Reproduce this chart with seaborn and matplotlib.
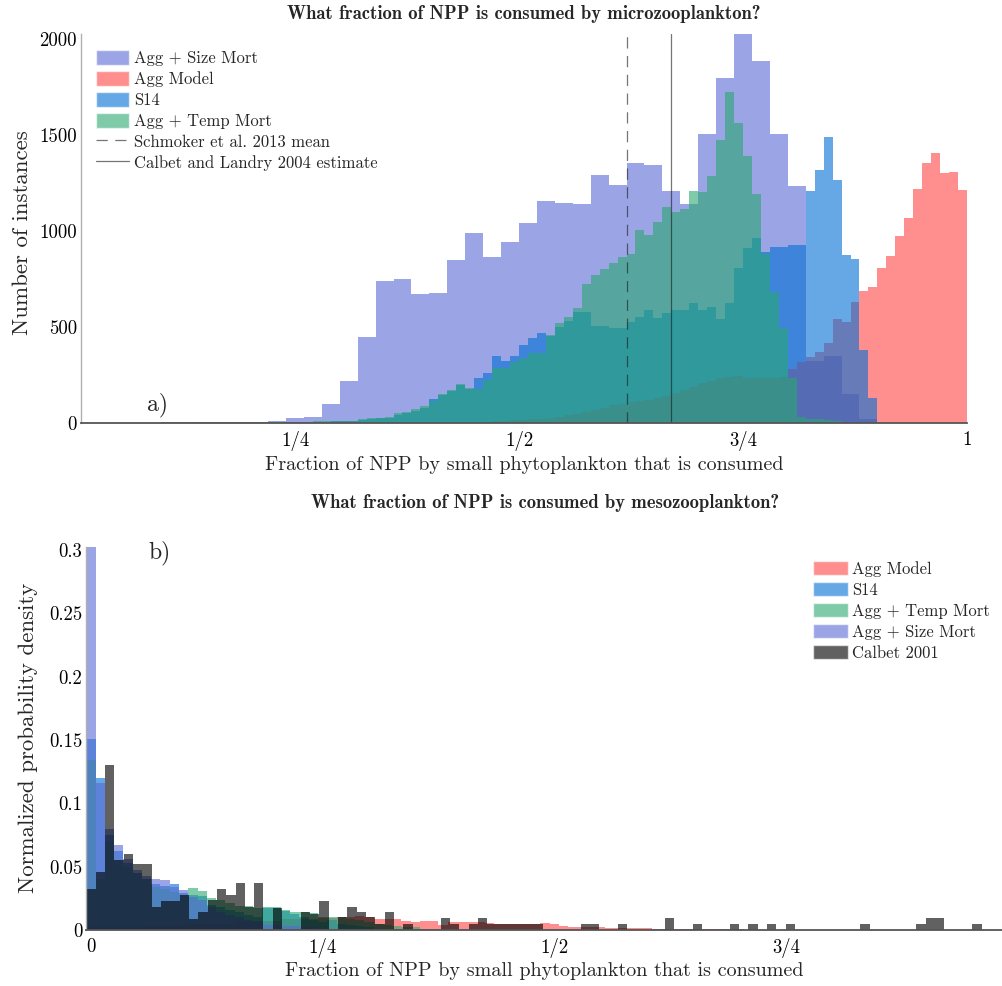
import numpy as np
import pandas as pd
import matplotlib
matplotlib.use("Agg")
import matplotlib.pyplot as plt
import seaborn as sns
from matplotlib.patches import Patch
from matplotlib.lines import Line2D

# ---------------- data: panel a (counts per bin) ----------------
# fine bins: width 0.01, left edges 0.00 ... 0.99
agg_temp_a = [0,0,0,0,0,0,0,0,0,0,
              0,1,1,1,2,2,2,2,3,3,
              3,3,4,4,5,5,6,7,8,9,
              10,10,17,23,26,31,49,57,71,87,
              115,149,170,200,179,174,222,286,286,318,
              339,365,365,457,517,549,599,722,769,800,
              830,865,878,1003,977,1043,1125,1099,1113,1207,
              1203,1285,1472,1724,1562,1392,1191,878,682,495,
              231,31,20,20,15,10,0,0,0,0,
              0,0,0,0,0,0,0,0,0,0]
s14_a = [0,0,0,0,0,0,0,0,0,0,
         0,0,0,0,0,0,0,0,0,0,
         1,1,2,2,3,3,4,5,6,7,
         8,8,14,20,22,26,42,49,61,75,
         125,145,165,195,175,231,260,347,321,347,
         404,439,465,450,500,530,578,578,503,505,
         495,495,526,549,587,544,570,589,589,622,
         587,602,540,622,804,908,960,890,917,917,
         925,925,1207,1319,1489,1264,873,851,378,127,
         0,0,0,0,0,0,0,0,0,0]
agg_model_a = [0,0,0,0,0,0,0,0,0,0,
               0,0,0,0,0,0,0,0,0,0,
               0,0,0,0,0,0,0,0,0,0,
               0,0,0,0,0,0,0,0,0,0,
               0,0,0,0,0,5,6,8,10,12,
               14,17,21,25,30,38,45,55,65,78,
               92,100,108,115,120,127,138,153,170,188,
               205,215,231,238,243,231,231,231,231,240,
               280,318,344,370,413,538,526,630,686,708,
               804,870,974,1068,1219,1354,1403,1302,1305,1210]
# coarse bins: width 0.02, left edges 0.00 ... 0.98
agg_size_a = [0,0,0,0,0,2,3,3,4,5,
              6,10,26,31,97,217,448,740,748,670,
              674,847,986,865,941,1042,1154,1147,1141,1293,
              1238,1352,1345,1207,1139,1503,1797,2030,1882,1502,
              1233,320,350,150,20,0,0,0,0,0]
schmoker_mean = 0.621
calbet_landry = 0.670

# ---------------- data: panel b (normalized density per bin) ----------------
# bins centred on 0.00, 0.01, ..., 0.99
agg_model_b = [.003,.003,.003,.003,.003,.003,.004,.004,.004,.004,
               .004,.005,.005,.005,.005,.005,.007,.007,.007,.007,
               .007,.009,.009,.009,.009,.0097,.0097,.010,.0105,.0113,
               .010,.0087,.0084,.0084,.0074,.0066,.0071,.0071,.0040,.006,
               .006,.006,.006,.0053,.005,.005,.005,.005,.005,.0055,
               .005,.003,.002,.0025,.0025,.002,.0016,.0016,.0016,.0013,
               .0012,.001,.001,.0008,.0008,.0006,.0005,.0005,.0005,.0005,
               .0005,.0003,.0003,.0003,.0003,.0003,0,0,0,0,
               0,0,0,0,0,0,0,0,0,0,
               0,0,0,0,0,0,0,0,0,0]
s14_b = [.151,.1197,.075,.062,.053,.045,.040,.036,.035,.036,
         .029,.0276,.027,.020,.018,.016,.014,.012,.010,.017,
         .017,.015,.013,.010,.008,.006,.008,.005,.004,.003,
         .002,.001,.001,.001,.001,.001,0,0,0,0,
         0,0,0,0,0,0,0,0,0,0,
         0,0,0,0,0,0,0,0,0,0,
         0,0,0,0,0,0,0,0,0,0,
         0,0,0,0,0,0,0,0,0,0,
         0,0,0,0,0,0,0,0,0,0,
         0,0,0,0,0,0,0,0,0,0]
agg_temp_b = [.134,.040,.070,.055,.050,.045,.040,.034,.032,.030,
              .028,.033,.031,.0255,.0237,.0216,.019,.019,.0176,.0179,
              .018,.0158,.0142,.0142,.0132,.0100,.010,.010,.009,.008,
              .006,.005,.004,.003,.002,.002,.001,.001,0,0,
              0,0,0,0,0,0,0,0,0,0,
              0,0,0,0,0,0,0,0,0,0,
              0,0,0,0,0,0,0,0,0,0,
              0,0,0,0,0,0,0,0,0,0,
              0,0,0,0,0,0,0,0,0,0,
              0,0,0,0,0,0,0,0,0,0]
agg_size_b = [.3026,.116,.080,.067,.056,.047,.043,.040,.0395,.034,
              .0316,.026,.024,.018,.014,.012,.010,.008,.006,.004,
              .004,.003,.003,.002,.002,.001,.001,.001,.001,.001,
              .001,0,0,0,0,0,0,0,0,0,
              0,0,0,0,0,0,0,0,0,0,
              0,0,0,0,0,0,0,0,0,0,
              0,0,0,0,0,0,0,0,0,0,
              0,0,0,0,0,0,0,0,0,0,
              0,0,0,0,0,0,0,0,0,0,
              0,0,0,0,0,0,0,0,0,0]
# Calbet 2001 uses its own bins (width ~0.010065 starting at -0.00507)
calbet_b = [.032,.046,.130,.055,.060,.052,.052,.018,.023,.023,
            .028,.009,.0145,.024,.0324,.028,.0368,.0184,.0368,0,
            .0176,0,0,.014,.013,.023,0,.010,.018,.014,
            .010,.0046,.014,0,.0046,0,0,0,.0092,.0046,
            0,.0046,.0092,.0046,.0046,.0046,.0046,.0046,.0046,0,
            0,0,0,.0046,.0046,0,0,.0046,0,0,
            0,0,.0092,0,0,.0046,0,0,0,.0046,
            0,.0046,0,.0046,0,.0046,0,0,0,0,
            0,0,0,.0046,0,0,0,0,0,.0046,
            .0092,.0092,0,0,0,.0046]

# ---------------- style ----------------
sns.set_theme(style="white")
plt.rcParams["font.family"] = ["cmr10", "DejaVu Serif"]
plt.rcParams["mathtext.fontset"] = "cm"
plt.rcParams["axes.unicode_minus"] = False
plt.rcParams["axes.formatter.use_mathtext"] = True

C_SIZE = "#586AD4"
C_MODEL = "#FF4444"
C_S14 = "#006ED5"
C_TEMP = "#28A871"
C_CALBET = "#000000"
ALPHA = 0.6

fig = plt.figure(figsize=(10.03, 9.86), dpi=100)
W, H = 1003.0, 986.0
ax1 = fig.add_axes([81 / W, 1 - 422.7 / H, (967 - 81) / W, (422.7 - 34) / H])
ax2 = fig.add_axes([86.35 / W, 1 - 930 / H, (1003 - 86.35) / W, (930 - 546.7) / H])


def hist(ax, values, edges, color, alpha=ALPHA):
    edges = np.asarray(edges, float)
    df = pd.DataFrame({"x": (edges[:-1] + edges[1:]) / 2,
                       "w": np.asarray(values, float)})
    sns.histplot(data=df, x="x", weights="w", bins=list(edges),
                 color=color, alpha=alpha, linewidth=0, ax=ax, stat="count",
                 element="bars", fill=True)


TITLE_FONT = dict(fontsize=13.4, family=["cmb10", "DejaVu Serif"])

# ---------------- panel a ----------------
fine_a = np.linspace(0, 1, 101)
coarse_a = np.linspace(0, 1, 51)
hist(ax1, agg_size_a, coarse_a, C_SIZE)
hist(ax1, agg_model_a, fine_a, C_MODEL)
hist(ax1, s14_a, fine_a, C_S14)
hist(ax1, agg_temp_a, fine_a, C_TEMP)
ax1.axvline(schmoker_mean, color="k", alpha=0.6, lw=0.9, ls=(0, (9, 6)))
ax1.axvline(calbet_landry, color="k", alpha=0.6, lw=0.9)

ax1.set_xlim(0.0112, 1.0)
ax1.set_ylim(0, 2025)
ax1.set_xticks([0.25, 0.5, 0.75, 1.0])
ax1.set_xticklabels(["1/4", "1/2", "3/4", "1"])
ax1.set_yticks([0, 500, 1000, 1500, 2000])
ax1.set_yticklabels(["0", "500", "1000", "1500", "2000"])
ax1.set_xlabel("Fraction of NPP by small phytoplankton that is consumed", fontsize=14.5)
ax1.set_ylabel("Number of instances", fontsize=16.5)
ax1.set_title("What fraction of NPP is consumed by microzooplankton?",
              pad=11, **TITLE_FONT)
ax1.text(0.085, 66, "a)", fontsize=17, ha="left", va="baseline")

h1 = [Patch(facecolor=C_SIZE, alpha=ALPHA, label="Agg + Size Mort"),
      Patch(facecolor=C_MODEL, alpha=ALPHA, label="Agg Model"),
      Patch(facecolor=C_S14, alpha=ALPHA, label="S14"),
      Patch(facecolor=C_TEMP, alpha=ALPHA, label="Agg + Temp Mort"),
      Line2D([], [], color="k", alpha=0.6, lw=0.9, ls=(0, (9, 6)),
             label="Schmoker et al. 2013 mean"),
      Line2D([], [], color="k", alpha=0.6, lw=0.9,
             label="Calbet and Landry 2004 estimate")]
ax1.legend(handles=h1, loc="upper left", bbox_to_anchor=(0.0169, 0.958),
           frameon=False, fontsize=12, borderpad=0, borderaxespad=0,
           handlelength=2.0, handleheight=1.0, handletextpad=0.3,
           labelspacing=0.28)

# ---------------- panel b ----------------
fine_b = -0.005 + 0.01 * np.arange(101)
calbet_edges = -0.00507 + 0.010065 * np.arange(len(calbet_b) + 1)
hist(ax2, agg_model_b, fine_b, C_MODEL)
hist(ax2, s14_b, fine_b, C_S14)
hist(ax2, agg_temp_b, fine_b, C_TEMP)
hist(ax2, agg_size_b, fine_b, C_SIZE)
hist(ax2, calbet_b, calbet_edges, C_CALBET, alpha=0.62)

ax2.set_xlim(-0.005, 0.9842)
ax2.set_ylim(0, 0.3026)
ax2.set_xticks([0, 0.25, 0.5, 0.75])
ax2.set_xticklabels(["0", "1/4", "1/2", "3/4"])
ax2.set_yticks([0, 0.05, 0.1, 0.15, 0.2, 0.25, 0.3])
ax2.set_yticklabels(["0", "0.05", "0.1", "0.15", "0.2", "0.25", "0.3"])
ax2.set_xlabel("Fraction of NPP by small phytoplankton that is consumed", fontsize=14.5)
ax2.set_ylabel("Normalized probability density", fontsize=16.5)
ax2.set_title("What fraction of NPP is consumed by mesozooplankton?",
              pad=28, **TITLE_FONT)
ax2.text(0.0615, 0.293, "b)", fontsize=17, ha="left", va="baseline")

h2 = [Patch(facecolor=C_MODEL, alpha=ALPHA, label="Agg Model"),
      Patch(facecolor=C_S14, alpha=ALPHA, label="S14"),
      Patch(facecolor=C_TEMP, alpha=ALPHA, label="Agg + Temp Mort"),
      Patch(facecolor=C_SIZE, alpha=ALPHA, label="Agg + Size Mort"),
      Patch(facecolor=C_CALBET, alpha=0.62, label="Calbet 2001")]
ax2.legend(handles=h2, loc="upper left", bbox_to_anchor=(0.7927, 0.9627),
           frameon=False, fontsize=12, borderpad=0, borderaxespad=0,
           handlelength=2.1, handleheight=0.95, handletextpad=0.25,
           labelspacing=0.3)

for ax in (ax1, ax2):
    for s in ("top", "right"):
        ax.spines[s].set_visible(False)
    ax.spines["left"].set_color("#b0b0b0")
    ax.spines["left"].set_linewidth(1.0)
    ax.spines["bottom"].set_color("#555555")
    ax.spines["bottom"].set_linewidth(1.3)
    ax.tick_params(direction="in", length=6.5, width=0.7, color="#888888",
                   labelsize=13.5, pad=3, labelcolor="black")
    ax.tick_params(axis="x", pad=6)

ax1.xaxis.set_label_coords(0.5, -0.085)
ax1.yaxis.set_label_coords(-0.055, 0.49)
ax2.xaxis.set_label_coords(0.5, -0.083)
ax2.yaxis.set_label_coords(-0.053, 0.5)

fig.savefig("out.png", dpi=100)
